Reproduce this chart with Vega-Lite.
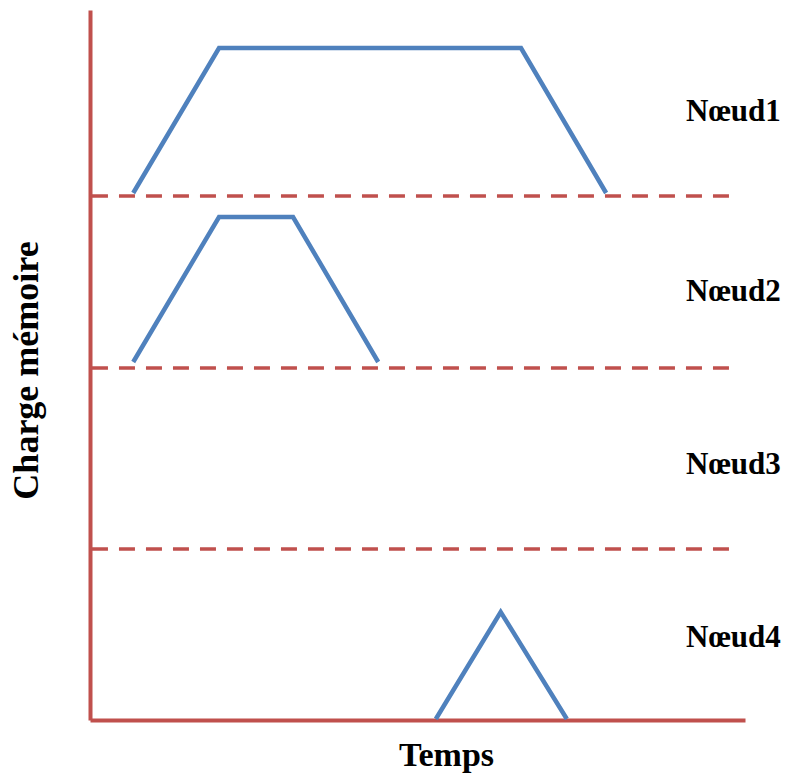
{
  "$schema": "https://vega.github.io/schema/vega-lite/v6.json",
  "width": 655,
  "height": 710,
  "autosize": {"type": "none"},
  "padding": {"left": 90, "top": 10, "right": 43, "bottom": 53},
  "background": "white",
  "config": {
    "view": {"stroke": null},
    "axis": {
      "labels": false,
      "ticks": false,
      "grid": false,
      "domainColor": "#C0504D",
      "domainWidth": 4,
      "titleFont": "Liberation Serif",
      "titleFontWeight": "bold",
      "titleColor": "black"
    }
  },
  "datasets": {
    "charges": [
      {"noeud": "Nœud1", "ordre": 1, "t": 6.6, "charge": 52.7},
      {"noeud": "Nœud1", "ordre": 2, "t": 19.7, "charge": 67.2},
      {"noeud": "Nœud1", "ordre": 3, "t": 65.8, "charge": 67.2},
      {"noeud": "Nœud1", "ordre": 4, "t": 78.8, "charge": 52.7},
      {"noeud": "Nœud2", "ordre": 1, "t": 6.6, "charge": 35.8},
      {"noeud": "Nœud2", "ordre": 2, "t": 19.7, "charge": 50.3},
      {"noeud": "Nœud2", "ordre": 3, "t": 31.0, "charge": 50.3},
      {"noeud": "Nœud2", "ordre": 4, "t": 44.0, "charge": 35.8},
      {"noeud": "Nœud4", "ordre": 1, "t": 52.8, "charge": 0.1},
      {"noeud": "Nœud4", "ordre": 2, "t": 62.7, "charge": 10.8},
      {"noeud": "Nœud4", "ordre": 3, "t": 72.8, "charge": 0.1}
    ],
    "separations": [
      {"t": 0.3, "t2": 98.8, "charge": 52.4},
      {"t": 0.3, "t2": 98.8, "charge": 35.2},
      {"t": 0.3, "t2": 98.5, "charge": 17.1}
    ],
    "etiquettes": [
      {"label": "Nœud1", "t": 91.0, "charge": 60.8},
      {"label": "Nœud2", "t": 91.0, "charge": 42.8},
      {"label": "Nœud3", "t": 91.0, "charge": 25.5},
      {"label": "Nœud4", "t": 91.0, "charge": 8.2}
    ]
  },
  "encoding": {
    "x": {
      "field": "t",
      "type": "quantitative",
      "scale": {"domain": [0, 100], "nice": false},
      "axis": {
        "title": "Temps",
        "titleFontSize": 34,
        "titleBaseline": "alphabetic",
        "titleAlign": "center",
        "titleX": 356,
        "titleY": 45
      }
    },
    "y": {
      "field": "charge",
      "type": "quantitative",
      "scale": {"domain": [0, 71], "nice": false},
      "axis": {
        "title": "Charge mémoire",
        "titleFontSize": 36,
        "titleAngle": -90,
        "titleBaseline": "alphabetic",
        "titleAlign": "center",
        "titleX": -53,
        "titleY": 360
      }
    }
  },
  "layer": [
    {
      "data": {"name": "separations"},
      "mark": {"type": "rule", "color": "#C0504D", "strokeWidth": 3.5, "strokeDash": [16, 11]},
      "encoding": {
        "x2": {"field": "t2"}
      }
    },
    {
      "data": {"name": "charges"},
      "mark": {"type": "line", "color": "#4F81BD", "strokeWidth": 4.5},
      "encoding": {
        "detail": {"field": "noeud"},
        "order": {"field": "ordre", "type": "quantitative"}
      }
    },
    {
      "data": {"name": "etiquettes"},
      "mark": {"type": "text", "font": "Liberation Serif", "fontWeight": "bold", "fontSize": 31, "align": "left", "baseline": "middle", "color": "black"},
      "encoding": {
        "text": {"field": "label"}
      }
    }
  ]
}
